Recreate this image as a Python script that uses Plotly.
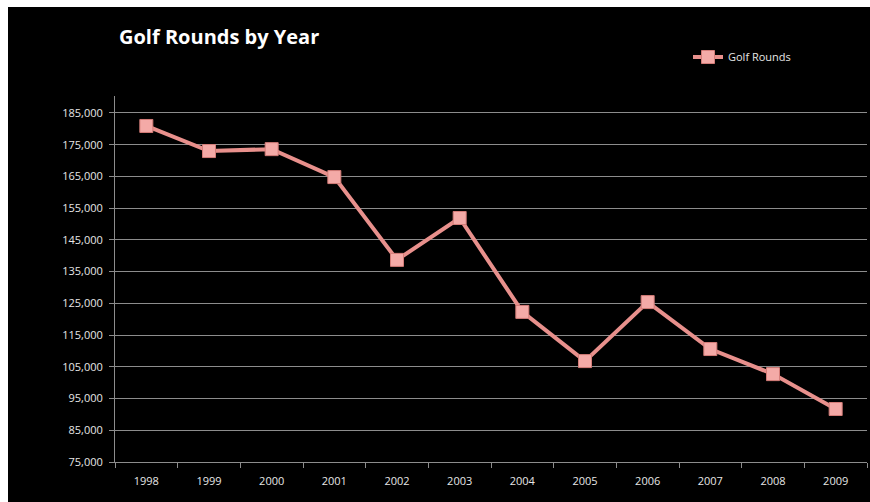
import plotly.graph_objects as go

years = ["1998", "1999", "2000", "2001", "2002", "2003", "2004", "2005", "2006", "2007", "2008", "2009"]
golf_rounds = [180900, 173000, 173600, 164800, 138700, 151900, 122300, 106800, 125400, 110600, 102700, 91700]
y_ticks = list(range(75000, 185001, 10000))
y_tick_labels = [f"{v:,}" for v in y_ticks]

W, H = 870, 502
L, R, T, B = 115, 3, 96, 40
pw, ph = W - L - R, H - T - B

def px(x):
    return (x - L) / pw

def py(y):
    return (H - B - y) / ph

fig = go.Figure()
fig.add_trace(go.Scatter(
    x=years, y=golf_rounds, mode="lines+markers", name="Golf Rounds",
    line=dict(color="#e8908c", width=4),
    marker=dict(symbol="square", size=13, color="#f4aaa7",
                line=dict(color="#d47c78", width=1)),
))

fig.update_layout(
    width=W, height=H,
    margin=dict(l=L, r=R, t=T, b=B),
    paper_bgcolor="black",
    plot_bgcolor="black",
    font=dict(family="Open Sans, Lato, sans-serif", color="#e6e6e6", size=11),
    showlegend=True,
    legend=dict(x=px(688), y=py(57), xanchor="left", yanchor="middle",
                bgcolor="rgba(0,0,0,0)", font=dict(size=11, color="#e6e6e6"),
                itemwidth=30),
    xaxis=dict(type="category", range=[-0.5, 11.5], showgrid=False,
               showline=True, linecolor="#8c8c8c", linewidth=1,
               ticks="outside", tickson="boundaries", ticklen=5, tickcolor="#8c8c8c",
               ticklabelstandoff=9,
               tickfont=dict(size=11, color="#e6e6e6"), fixedrange=True),
    yaxis=dict(range=[75000, 190350], tickvals=y_ticks, ticktext=y_tick_labels,
               showgrid=True, gridcolor="#8c8c8c", gridwidth=1,
               showline=True, linecolor="#8c8c8c", linewidth=1,
               ticks="outside", ticklen=5, tickcolor="#8c8c8c",
               ticklabelstandoff=4,
               tickfont=dict(size=11, color="#e6e6e6"), zeroline=False),
    shapes=[
        dict(type="rect", xref="paper", yref="paper", x0=px(-5), x1=px(W + 5),
             y0=py(7), y1=py(-5), fillcolor="white", line=dict(width=0), layer="above"),
        dict(type="rect", xref="paper", yref="paper", x0=px(-5), x1=px(8),
             y0=py(H + 5), y1=py(-5), fillcolor="white", line=dict(width=0), layer="above"),
    ],
    annotations=[
        dict(text="<b>Golf Rounds by Year</b>", xref="paper", yref="paper",
             x=px(117), y=py(36), xanchor="left", yanchor="middle", showarrow=False,
             font=dict(size=20, color="white", family="Open Sans, Lato, sans-serif")),
    ],
)

fig.write_html("out.html")
